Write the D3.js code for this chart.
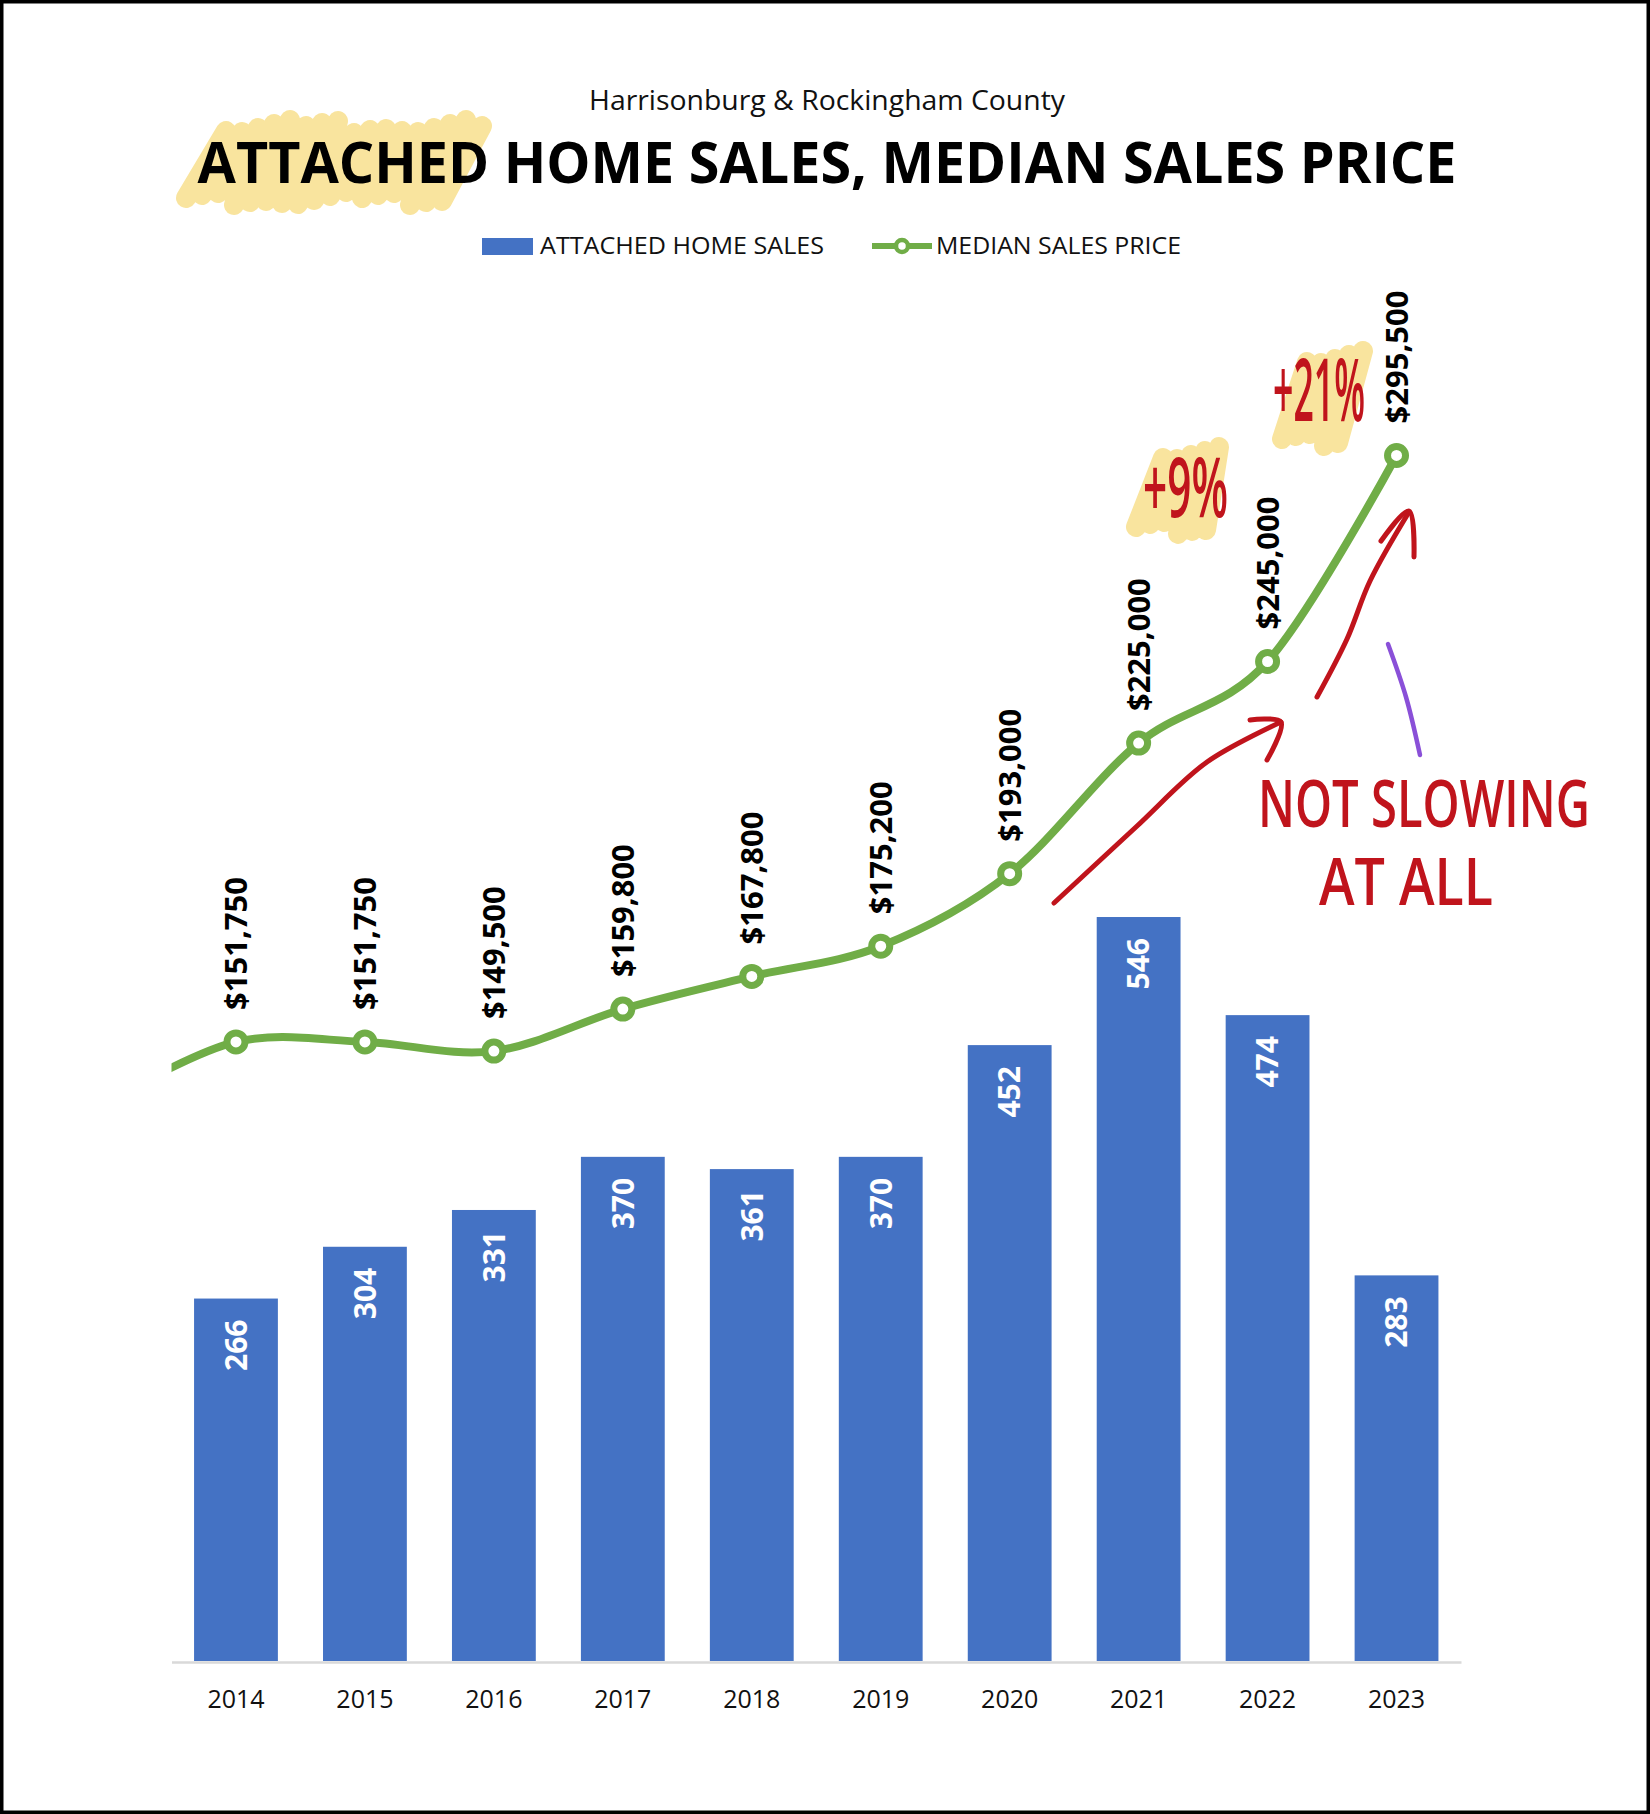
<!DOCTYPE html>
<html>
<head>
<meta charset="utf-8">
<script src="https://cdn.jsdelivr.net/npm/d3@7/dist/d3.min.js"></script>
<style>
  html, body { margin: 0; padding: 0; background: #fff; }
  svg { display: block; }
  text { font-family: "Open Sans", "Noto Sans", sans-serif; }
</style>
</head>
<body>
<script>
// data
var years = [2014, 2015, 2016, 2017, 2018, 2019, 2020, 2021, 2022, 2023];
var homeSales = [266, 304, 331, 370, 361, 370, 452, 546, 474, 283];
var medianPrice = [151750, 151750, 149500, 159800, 167800, 175200, 193000, 225000, 245000, 295500];
// the line comes in from off the left edge: 2013 point is hidden by the plot clip
var hiddenYear = 2013, hiddenPrice = 137000;

var width = 1650, height = 1814;
var plot = {left: 171.5, right: 1461, top: 298.4, bottom: 1661};

var svg = d3.select("body").append("svg")
    .attr("width", width)
    .attr("height", height);

svg.append("rect")
    .attr("x", 1.75).attr("y", 1.75)
    .attr("width", width - 3.5).attr("height", height - 3.5)
    .attr("fill", "#fff")
    .attr("stroke", "#000")
    .attr("stroke-width", 3.5);

// scales
var x = d3.scaleBand().domain(years).range([plot.left, plot.right])
    .paddingInner(0.35).paddingOuter(0.175);
var ySales = d3.scaleLinear().domain([0, 1000]).range([plot.bottom, plot.top]);
var yPrice = d3.scaleLinear().domain([0, 334000]).range([plot.bottom, plot.top]);
function cx(yr) { return x(yr) + x.bandwidth() / 2; }
function cxAny(yr) { return cx(years[0]) + (yr - years[0]) * x.step(); }

var blue = "#4472C4", green = "#70AD47", red = "#C0141C", hilite = "#F9E49E";

// highlighter scribble, a zigzag of fat round strokes
function scribble(g, x0, x1, yTop, yBot, slant, step, w) {
  var pts = [];
  var jit = [0, 5, -3, 6, -5, 2, 7, -2, 4, -6, 3];
  for (var i = 0, xx = x0; xx <= x1; i++, xx += step / 2) {
    var j = jit[i % jit.length];
    if (i % 2 === 0) pts.push([xx, yBot + j]);
    else pts.push([xx + slant, yTop + j]);
  }
  g.append("path")
      .attr("d", d3.line()(pts))
      .attr("fill", "none")
      .attr("stroke", hilite)
      .attr("stroke-width", w)
      .attr("stroke-linecap", "round")
      .attr("stroke-linejoin", "round");
}

// titles
var head = svg.append("g");
scribble(head, 186, 452, 126, 198, 32, 16, 20);

function fitText(sel, len) {
  sel.attr("textLength", len).attr("lengthAdjust", "spacingAndGlyphs");
}

head.append("text")
    .attr("x", 827).attr("y", 110)
    .attr("text-anchor", "middle")
    .attr("font-size", 28)
    .attr("fill", "#111")
    .text("Harrisonburg & Rockingham County")
    .call(fitText, 476);

head.append("text")
    .attr("x", 827).attr("y", 183)
    .attr("text-anchor", "middle")
    .attr("font-size", 57)
    .attr("font-weight", "bold")
    .attr("fill", "#000")
    .text("ATTACHED HOME SALES, MEDIAN SALES PRICE")
    .call(fitText, 1259);

// legend
var legend = svg.append("g");
legend.append("rect")
    .attr("x", 482).attr("y", 238)
    .attr("width", 51).attr("height", 17)
    .attr("fill", blue);
legend.append("text")
    .attr("x", 540).attr("y", 254)
    .attr("font-size", 23)
    .attr("fill", "#111")
    .text("ATTACHED HOME SALES")
    .call(fitText, 284);
legend.append("line")
    .attr("x1", 872).attr("x2", 932)
    .attr("y1", 246).attr("y2", 246)
    .attr("stroke", green).attr("stroke-width", 6);
legend.append("circle")
    .attr("cx", 902).attr("cy", 246).attr("r", 6)
    .attr("fill", "#fff").attr("stroke", green).attr("stroke-width", 4.5);
legend.append("text")
    .attr("x", 936).attr("y", 254)
    .attr("font-size", 23)
    .attr("fill", "#111")
    .text("MEDIAN SALES PRICE")
    .call(fitText, 245);

// bars
var barData = years.map(function(yr, i) { return {year: yr, sales: homeSales[i]}; });
svg.append("g").selectAll("rect")
    .data(barData)
  .enter().append("rect")
    .attr("x", function(d) { return x(d.year); })
    .attr("y", function(d) { return ySales(d.sales); })
    .attr("width", x.bandwidth())
    .attr("height", function(d) { return ySales(0) - ySales(d.sales); })
    .attr("fill", blue);

svg.append("g").selectAll("text")
    .data(barData)
  .enter().append("text")
    .attr("transform", function(d) {
      return "translate(" + cx(d.year) + "," + (ySales(d.sales) + 21) + ") rotate(-90)";
    })
    .attr("dy", "0.36em")
    .attr("text-anchor", "end")
    .attr("font-size", 30)
    .attr("font-weight", "bold")
    .attr("fill", "#fff")
    .text(function(d) { return d.sales; });

// x axis
var axis = svg.append("g")
    .attr("transform", "translate(0," + (plot.bottom + 1) + ")")
    .call(d3.axisBottom(x).tickSize(0).tickPadding(28));
axis.select(".domain").attr("stroke", "#d9d9d9").attr("stroke-width", 2.5);
axis.selectAll("text")
    .attr("font-family", "'Open Sans', sans-serif")
    .attr("font-size", 25)
    .attr("fill", "#111");

// price line
svg.append("clipPath").attr("id", "plotclip")
  .append("rect")
    .attr("x", plot.left).attr("y", 0)
    .attr("width", plot.right - plot.left).attr("height", plot.bottom);

var priceData = years.map(function(yr, i) { return {year: yr, price: medianPrice[i]}; });
var lineData = [{year: hiddenYear, price: hiddenPrice}].concat(priceData);

var line = d3.line()
    .x(function(d) { return cxAny(d.year); })
    .y(function(d) { return yPrice(d.price); })
    .curve(d3.curveCardinal.tension(0));

svg.append("path")
    .datum(lineData)
    .attr("clip-path", "url(#plotclip)")
    .attr("d", line)
    .attr("fill", "none")
    .attr("stroke", green)
    .attr("stroke-width", 8)
    .attr("stroke-linecap", "round");

svg.append("g").selectAll("circle")
    .data(priceData)
  .enter().append("circle")
    .attr("cx", function(d) { return cx(d.year); })
    .attr("cy", function(d) { return yPrice(d.price); })
    .attr("r", 9)
    .attr("fill", "#fff")
    .attr("stroke", green)
    .attr("stroke-width", 7);

var fmt = d3.format("$,");
svg.append("g").selectAll("text")
    .data(priceData)
  .enter().append("text")
    .attr("transform", function(d) {
      return "translate(" + cx(d.year) + "," + (yPrice(d.price) - 32) + ") rotate(-90)";
    })
    .attr("dy", "0.36em")
    .attr("font-size", 31)
    .attr("font-weight", "bold")
    .attr("fill", "#000")
    .text(function(d) { return fmt(d.price); });

// hand drawn notes
var notes = svg.append("g");
scribble(notes, 1136, 1206, 453, 527, 20, 14, 20);
scribble(notes, 1282, 1350, 357, 439, 18, 14, 20);

// squeeze the note horizontally so it is as narrow as the handwriting
function note(txt, x0, base, size, len) {
  var t = notes.append("text")
      .attr("font-size", size)
      .attr("font-weight", 600)
      .attr("fill", red)
      .text(txt);
  var sx = len / t.node().getComputedTextLength();
  t.attr("transform", "translate(" + x0 + "," + base + ") scale(" + sx + ",1)");
}
note("+9%", 1143, 517, 84, 85);
note("+21%", 1273, 421, 86, 92);
note("NOT SLOWING", 1258, 827, 66, 332);
note("AT ALL", 1319, 905, 66, 174);

function stroke(pts, color, w) {
  notes.append("path")
      .attr("d", d3.line().curve(d3.curveCatmullRom)(pts))
      .attr("fill", "none")
      .attr("stroke", color)
      .attr("stroke-width", w)
      .attr("stroke-linecap", "round")
      .attr("stroke-linejoin", "round");
}
stroke([[1054, 903], [1136, 827], [1207, 762], [1281, 722]], red, 5);
stroke([[1250, 720], [1281, 722], [1267, 760]], red, 5);
stroke([[1317, 697], [1347, 639], [1370, 581], [1409, 512]], red, 5);
stroke([[1381, 541], [1409, 511], [1414, 557]], red, 5);
stroke([[1388, 644], [1406, 697], [1420, 755]], "#8A50D8", 4.5);
</script>
</body>
</html>
